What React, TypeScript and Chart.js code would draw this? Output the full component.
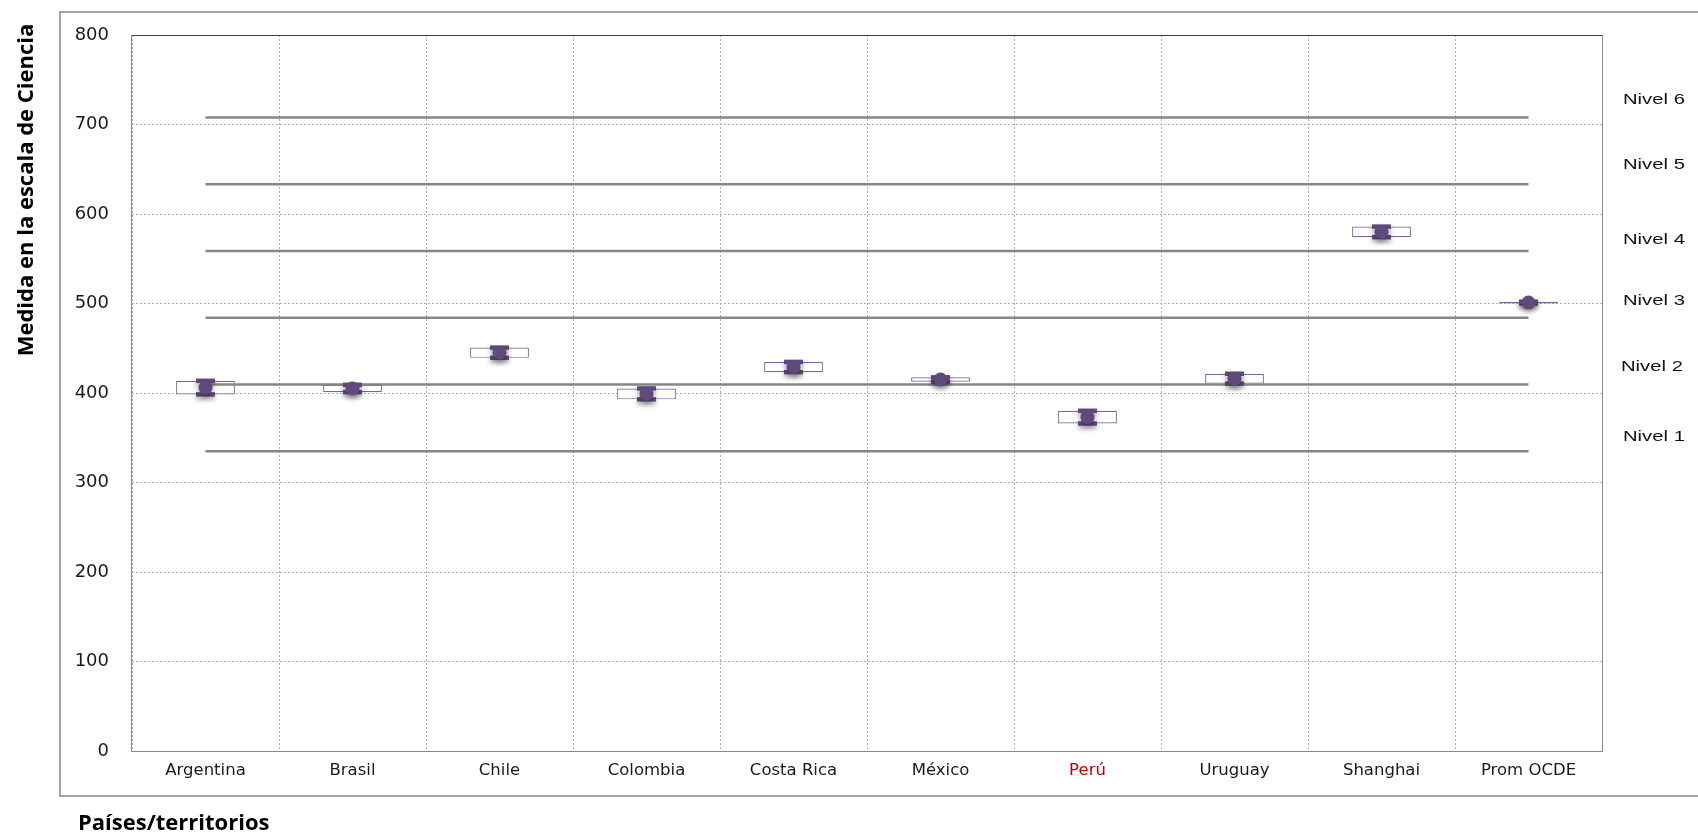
import React, { useEffect, useRef } from 'react';
import { Chart, registerables } from 'chart.js';

Chart.register(...registerables);

// ---- Data (PISA, Ciencia) ----
const categories = ['Argentina', 'Brasil', 'Chile', 'Colombia', 'Costa Rica', 'México', 'Perú', 'Uruguay', 'Shanghai', 'Prom OCDE'];
const highlightCategory = 'Perú';
const meanScores = [406, 405, 445, 399, 429, 415, 373, 416, 580, 501];
const ciLow = [398.4, 400.9, 439.3, 392.9, 423.3, 412.5, 365.9, 410.5, 574.1, 500.0];
const ciHigh = [413.6, 409.1, 450.7, 405.1, 434.7, 417.5, 380.1, 421.5, 585.9, 502.0];
const levelCutoffs = [334.9, 409.5, 484.1, 558.7, 633.3, 707.9];
const levelLabels = ['Nivel 1', 'Nivel 2', 'Nivel 3', 'Nivel 4', 'Nivel 5', 'Nivel 6'];
const yMin = 0;
const yMax = 800;
const yStep = 100;
const yTitle = 'Medida en la escala de Ciencia';
const xTitle = 'Países/territorios';

const PURPLE_DARK = '#604A7B';
const PURPLE_BOX = '#8064A2';
const LEVEL_GRAY = '#868686';

export default function App() {
  const ref = useRef<HTMLCanvasElement>(null);

  useEffect(() => {
    const canvas = ref.current;
    if (!canvas) return;

    const shadowSets = new Set<number>();

    const datasets: any[] = [];
    datasets.push({
      type: 'bar',
      label: 'IC',
      data: categories.map((_, i) => [ciLow[i], ciHigh[i]]),
      backgroundColor: '#ffffff',
      borderColor: PURPLE_BOX,
      borderWidth: 1.2,
      borderSkipped: false,
      barPercentage: 0.4,
      categoryPercentage: 1,
      order: 3,
    });
    levelCutoffs.forEach((v, k) => {
      datasets.push({
        type: 'line',
        label: levelLabels[k],
        data: categories.map(() => v),
        borderColor: LEVEL_GRAY,
        borderWidth: 2.6,
        pointRadius: 0,
        fill: false,
        order: 2,
      });
    });
    const capHigh = datasets.length;
    datasets.push({
      type: 'line',
      label: 'high',
      data: ciHigh,
      showLine: false,
      pointStyle: 'line',
      pointRadius: 9.5,
      pointBorderWidth: 4.5,
      pointBorderColor: PURPLE_DARK,
      order: 1,
    });
    const capLow = datasets.length;
    datasets.push({
      type: 'line',
      label: 'low',
      data: ciLow,
      showLine: false,
      pointStyle: 'line',
      pointRadius: 9.5,
      pointBorderWidth: 4.5,
      pointBorderColor: PURPLE_DARK,
      order: 1,
    });
    const meanIdx = datasets.length;
    datasets.push({
      type: 'line',
      label: 'Media',
      data: meanScores,
      showLine: false,
      pointStyle: 'circle',
      pointRadius: 7,
      pointBorderWidth: 0,
      pointBackgroundColor: PURPLE_DARK,
      order: 0,
    });
    shadowSets.add(capHigh);
    shadowSets.add(capLow);
    shadowSets.add(meanIdx);

    const nivelOffsetsPx = [14, 18, 17, 11, 19, 18];

    const overlay = {
      id: 'overlay',
      beforeDatasetDraw(chart: any, args: any) {
        if (shadowSets.has(args.index)) {
          const ctx = chart.ctx;
          ctx.save();
          ctx.shadowColor = 'rgba(0,0,0,0.35)';
          ctx.shadowBlur = 5;
          ctx.shadowOffsetY = 3;
        }
      },
      afterDatasetDraw(chart: any, args: any) {
        if (shadowSets.has(args.index)) chart.ctx.restore();
      },
      afterDraw(chart: any) {
        const ctx = chart.ctx as CanvasRenderingContext2D;
        const ca = chart.chartArea;
        const ys = chart.scales.y;
        ctx.save();
        // outer frame
        ctx.strokeStyle = '#a3a3a3';
        ctx.lineWidth = 2;
        ctx.strokeRect(60, 12, 1700, 784);
        // plot frame
        ctx.lineWidth = 1;
        ctx.strokeStyle = '#8a8a8a';
        ctx.strokeRect(Math.round(ca.left) - 0.5, Math.round(ca.top) + 0.5, Math.round(ca.right - ca.left) + 1, Math.round(ca.bottom - ca.top));
        ctx.strokeStyle = '#404040';
        ctx.beginPath();
        ctx.moveTo(ca.left, Math.round(ca.top) + 0.5);
        ctx.lineTo(ca.right, Math.round(ca.top) + 0.5);
        ctx.stroke();

        // Nivel labels
        ctx.fillStyle = '#111';
        ctx.font = '15px "Liberation Sans", Arial, sans-serif';
        ctx.textAlign = 'left';
        ctx.textBaseline = 'middle';
        levelLabels.forEach((t, k) => {
          const y = ys.getPixelForValue(levelCutoffs[k]) - nivelOffsetsPx[k];
          ctx.save();
          ctx.translate(k === 1 ? 1621 : 1623, y);
          ctx.scale(1.35, 1);
          ctx.fillText(t, 0, 0);
          ctx.restore();
        });

        // Y title
        ctx.save();
        ctx.fillStyle = '#000';
        ctx.font = 'bold 22px "Open Sans", sans-serif';
        ctx.translate(33, 190);
        ctx.rotate(-Math.PI / 2);
        ctx.textAlign = 'center';
        ctx.textBaseline = 'alphabetic';
        ctx.fillText(yTitle, 0, 0);
        ctx.restore();

        // X title
        ctx.fillStyle = '#000';
        ctx.font = 'bold 22px "Open Sans", sans-serif';
        ctx.textAlign = 'left';
        ctx.textBaseline = 'alphabetic';
        ctx.fillText(xTitle, 78, 830);
        ctx.restore();
      },
    };

    const chart = new Chart(canvas, {
      type: 'bar',
      data: { labels: categories, datasets },
      options: {
        responsive: false,
        animation: false,
        events: [],
        layout: { padding: { left: 0, right: 96, top: 35, bottom: 0 } },
        plugins: {
          legend: { display: false },
          tooltip: { enabled: false },
        },
        scales: {
          x: {
            offset: true,
            afterFit: (s: any) => { s.height = 84; },
            grid: {
              display: true,
              offset: true,
              drawTicks: false,
              color: '#b0b0b0',
              lineWidth: 1,
            },
            border: { display: false, dash: [2, 2] },
            ticks: {
              padding: 10,
              font: { family: '"DejaVu Sans", Verdana, sans-serif', size: 16.5 },
              color: (c: any) => (categories[c.index] === highlightCategory ? '#C00000' : '#1a1a1a'),
            },
          },
          y: {
            min: yMin,
            max: yMax,
            afterFit: (s: any) => { s.width = 132; },
            grid: {
              display: true,
              drawTicks: false,
              color: '#b0b0b0',
              lineWidth: 1,
            },
            border: { display: false, dash: [2, 2] },
            ticks: {
              stepSize: yStep,
              padding: 23,
              font: { family: '"DejaVu Sans", Verdana, sans-serif', size: 18 },
              color: '#1a1a1a',
            },
          },
        },
      },
      plugins: [overlay],
    } as any);

    return () => chart.destroy();
  }, []);

  return (
    <div style={{ position: 'absolute', left: 0, top: 0, width: 1698, height: 835, background: '#fff' }}>
      <canvas ref={ref} width={1698} height={835} style={{ display: 'block', width: 1698, height: 835 }} />
    </div>
  );
}
